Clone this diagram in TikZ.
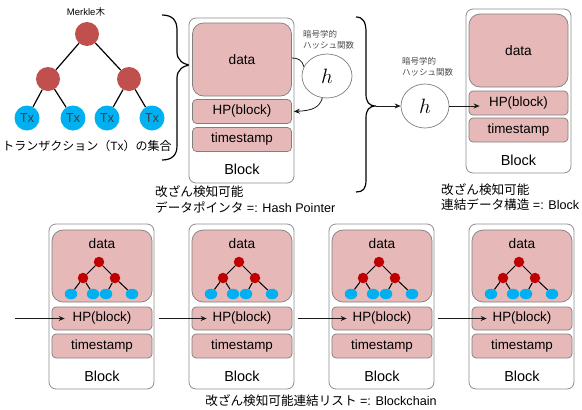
\documentclass[tikz,border=0pt]{standalone}
\usepackage{fontspec}
\setmainfont{Liberation Sans}
\newfontfamily\jpfont{Noto Sans CJK JP}
\usetikzlibrary{arrows.meta,shapes.geometric}

\definecolor{pinkfill}{HTML}{E6B8B7}
\definecolor{boxline}{HTML}{7F7F7F}
\definecolor{outerline}{HTML}{8E8E8E}
\definecolor{mred}{HTML}{C0504D}
\definecolor{mcyan}{HTML}{00B0F0}
\definecolor{dred}{HTML}{C00000}
\definecolor{txgray}{HTML}{404040}
\definecolor{linecol}{HTML}{1A1A1A}

\tikzset{
 outerblock/.style={draw=outerline, line width=0.8pt, rounded corners=7pt, fill=white, minimum width=105pt, minimum height=165pt, inner sep=0pt},
 databox/.style={draw=boxline, line width=0.7pt, fill=pinkfill, rounded corners=11pt, minimum width=99pt, minimum height=73pt, inner sep=0pt, font=\fontsize{13.7}{15}\selectfont},
 fieldbox/.style={draw=boxline, line width=0.7pt, fill=pinkfill, rounded corners=4pt, minimum width=99pt, minimum height=24pt, inner sep=0pt, font=\fontsize{13.4}{15}\selectfont},
 datatext/.style={inner sep=0pt, font=\fontsize{13.7}{15}\selectfont},
 blocktext/.style={inner sep=0pt, font=\fontsize{14.5}{16}\selectfont},
 bigred/.style={circle, fill=mred, minimum size=24pt, inner sep=0pt},
 bigleaf/.style={circle, fill=mcyan, minimum size=25pt, inner sep=0pt, text=txgray, font=\fontsize{13}{14}\selectfont},
 smallred/.style={circle, fill=dred, minimum size=10.5pt, inner sep=0pt},
 smallleaf/.style={ellipse, fill=mcyan, minimum width=12.5pt, minimum height=10.5pt, inner sep=0pt},
 hashnode/.style={ellipse, draw=boxline, line width=0.7pt, fill=white, minimum width=50pt, minimum height=44pt, inner sep=0pt, font=\fontsize{21}{22}\selectfont},
 hashlabel/.style={inner sep=0pt, align=left, text=black!70, font=\fontsize{8.5}{11}\selectfont\jpfont},
 caption/.style={inner sep=0pt, align=left, font=\fontsize{12.6}{16}\selectfont},
 arr/.style={draw=linecol, line width=0.8pt, -{Stealth[length=6pt,width=5pt]}},
 plainline/.style={draw=linecol, line width=0.8pt},
 treeline/.style={draw=black, line width=1.2pt},
 minitreeline/.style={draw=black, line width=1pt},
 bracepath/.style={draw=black, line width=1.2pt},
}

\begin{document}
\begin{tikzpicture}[x=1pt,y=-1pt]
\useasboundingbox[fill=white] (0,0) rectangle (582,410);

% ---------- Merkle tree (top left) ----------
\node[inner sep=0pt, font=\fontsize{9.5}{11}\selectfont] (mtitle) at (86,12) {Merkle{\jpfont 木}};
\node[bigred] (mroot) at (87,34) {};
\node[bigred] (mma) at (48,79) {};
\node[bigred] (mmb) at (129,79) {};
\node[bigleaf] (mla) at (27,118) {Tx};
\node[bigleaf] (mlb) at (73,118) {Tx};
\node[bigleaf] (mlc) at (107,118) {Tx};
\node[bigleaf] (mld) at (152,118) {Tx};
\draw[treeline] (mroot) -- (mma);
\draw[treeline] (mroot) -- (mmb);
\draw[treeline] (mma) -- (mla);
\draw[treeline] (mma) -- (mlb);
\draw[treeline] (mmb) -- (mlc);
\draw[treeline] (mmb) -- (mld);
\node[inner sep=0pt, font=\fontsize{12}{14}\selectfont] (mcap) at (87,146) {{\jpfont トランザクション（}Tx{\jpfont ）の集合}};

% ---------- brace 1 ----------
\coordinate (b1tip) at (192,65);
\draw[bracepath] (162,15) .. controls (172,15) and (177,20) .. (177,30) -- (177,52)
  .. controls (177,60) and (183,65) .. (b1tip)
  .. controls (183,65) and (177,70) .. (177,78) -- (177,146)
  .. controls (177,155) and (172,160) .. (162,160);

% ---------- top block 1 ----------
\node[outerblock] (ob0) at (241.5,100.5) {};
\node[databox] (db0) at (242,59.5) {data};
\node[fieldbox] (hb0) at (242,111.5) {HP(block)};
\node[fieldbox] (tb0) at (242,139.5) {timestamp};
\node[blocktext] (bt0) at (242,169) {Block};

\node[hashnode] (h1) at (327,76) {$h$};
\node[hashlabel, anchor=west] (h1lab) at (303,40) {暗号学的\\ハッシュ関数};
\draw[plainline] (db0.east |- 0,58) .. controls (298,58) and (302,60) .. (h1.158);
\draw[arr] (h1.258) .. controls +(-3,10) and +(18,-1) .. ([xshift=2pt]hb0.east);

\node[caption, anchor=west] (cap1) at (155,199) {{\jpfont 改ざん検知可能}\\{\jpfont データポインタ} =: Hash Pointer};

% ---------- brace 2 ----------
\coordinate (b2tip) at (376,106);
\draw[bracepath] (356,17) .. controls (363,17) and (366,22) .. (366,32) -- (366,94)
  .. controls (366,102) and (369,106) .. (b2tip)
  .. controls (369,106) and (366,110) .. (366,118) -- (366,180)
  .. controls (366,189) and (363,192) .. (356,192);

\node[hashnode, minimum width=48pt] (h2) at (425,106) {$h$};
\node[hashlabel, anchor=west] (h2lab) at (402,67) {暗号学的\\ハッシュ関数};
\draw[arr] (b2tip) -- (h2.west);

% ---------- top block 2 ----------
\node[outerblock, minimum height=164pt] (ob5) at (518.5,91) {};
\node[databox] (db5) at (518.5,50.5) {data};
\node[fieldbox] (hb5) at (518.5,103) {HP(block)};
\node[fieldbox] (tb5) at (518.5,130) {timestamp};
\node[blocktext] (bt5) at (518.5,160) {Block};
\draw[arr] (h2.east) -- ([xshift=11pt]h2.east -| hb5.west);

\node[caption, anchor=west, font=\fontsize{12.6}{14.5}\selectfont] (cap2) at (441,197) {{\jpfont 改ざん検知可能}\\{\jpfont 連結データ構造} =: Block};

% ---------- bottom chain ----------
\foreach \i/\x in {1/49,2/189,3/329,4/469}{
  \node[outerblock] (ob\i) at (\x+52.5,306.5) {};
  \node[databox, minimum width=100pt, minimum height=72pt] (db\i) at (\x+53,266) {};
  \node[datatext] (dt\i) at (\x+53,244) {data};
  \node[smallred] (r\i) at (\x+50,262) {};
  \node[smallred] (ma\i) at (\x+34,278) {};
  \node[smallred] (mb\i) at (\x+66,278) {};
  \node[smallleaf] (la\i) at (\x+22,294) {};
  \node[smallleaf] (lb\i) at (\x+44,294) {};
  \node[smallleaf] (lc\i) at (\x+57,294) {};
  \node[smallleaf] (ld\i) at (\x+83,294) {};
  \draw[minitreeline] (r\i) -- (ma\i);
  \draw[minitreeline] (r\i) -- (mb\i);
  \draw[minitreeline] (ma\i) -- (la\i);
  \draw[minitreeline] (ma\i) -- (lb\i);
  \draw[minitreeline] (mb\i) -- (lc\i);
  \draw[minitreeline] (mb\i) -- (ld\i);
  \node[fieldbox, minimum width=100pt, minimum height=23pt] (hb\i) at (\x+53,318.5) {HP(block)};
  \node[fieldbox, minimum width=100pt] (tb\i) at (\x+53,346) {timestamp};
  \node[blocktext] (bt\i) at (\x+53,376) {Block};
}

\coordinate (chainin) at (15,318.5);
\draw[arr] (chainin) -- ([xshift=13pt]hb1.west);
\draw[arr] ([xshift=5pt]ob1.east |- hb2.west) -- ([xshift=15pt]hb2.west);
\draw[arr] ([xshift=4pt]ob2.east |- hb3.west) -- ([xshift=15pt]hb3.west);
\draw[arr] ([xshift=4pt]ob3.east |- hb4.west) -- ([xshift=15pt]hb4.west);

\node[inner sep=0pt, font=\fontsize{12.6}{14}\selectfont] (cap3) at (321,401) {{\jpfont 改ざん検知可能連結リスト} =: Blockchain};

\end{tikzpicture}
\end{document}
